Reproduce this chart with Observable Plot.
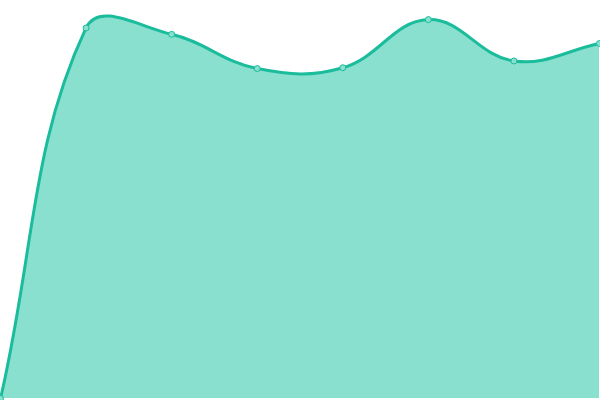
<!DOCTYPE html>
<html><head><meta charset="utf-8">
<script src="https://cdn.jsdelivr.net/npm/d3@7"></script>
<script src="https://cdn.jsdelivr.net/npm/@observablehq/plot@0.6"></script>
<style>body{margin:0;background:#fff}</style>
</head><body><div id="chart"></div>
<script>
const categories = [0, 1, 2, 3, 4, 5, 6, 7];
const values = [0, 93.1, 91.5, 82.9, 83.1, 95.2, 84.8, 89.2];
const data = categories.map((c, i) => ({x: c, y: values[i]}));

// distance-weighted cubic spline (tension 0.4)
function splineCurve(context) {
  const t = 0.4;
  return {
    areaStart() { this._line = 0; },
    areaEnd() { this._line = NaN; },
    lineStart() { this._pts = []; },
    point(x, y) { this._pts.push([+x, +y]); },
    lineEnd() {
      const p = this._pts, n = p.length;
      if (n) {
        this._line ? context.lineTo(p[0][0], p[0][1]) : context.moveTo(p[0][0], p[0][1]);
        const cps = p.map((cur, i) => {
          const prev = p[i - 1] || cur, next = p[i + 1] || cur;
          const d01 = Math.hypot(cur[0] - prev[0], cur[1] - prev[1]);
          const d12 = Math.hypot(next[0] - cur[0], next[1] - cur[1]);
          let s01 = d01 / (d01 + d12), s12 = d12 / (d01 + d12);
          if (!isFinite(s01)) s01 = 0;
          if (!isFinite(s12)) s12 = 0;
          const fa = t * s01, fb = t * s12;
          return {
            px: cur[0] - fa * (next[0] - prev[0]), py: cur[1] - fa * (next[1] - prev[1]),
            nx: cur[0] + fb * (next[0] - prev[0]), ny: cur[1] + fb * (next[1] - prev[1])
          };
        });
        for (let i = 0; i < n - 1; i++) {
          context.bezierCurveTo(cps[i].nx, cps[i].ny, cps[i + 1].px, cps[i + 1].py, p[i + 1][0], p[i + 1][1]);
        }
      }
      if (this._line || (this._line !== 0 && n === 1)) context.closePath();
      this._line = 1 - this._line;
    }
  };
}

const chart = Plot.plot({
  width: 600, height: 400,
  marginLeft: 0, marginRight: 1, marginTop: 0, marginBottom: 2,
  x: {domain: [0, 7], axis: null},
  y: {domain: [0, 100], axis: null},
  marks: [
    Plot.areaY(data, {x: "x", y: "y", curve: splineCurve, fill: "#89e0cf"}),
    Plot.lineY(data, {x: "x", y: "y", curve: splineCurve, stroke: "#1abc9c", strokeWidth: 3}),
    Plot.dot(data, {x: "x", y: "y", r: 3, fill: "#89e0cf", stroke: "#1abc9c", strokeWidth: 1})
  ]
});
document.getElementById("chart").append(chart);
</script></body></html>
